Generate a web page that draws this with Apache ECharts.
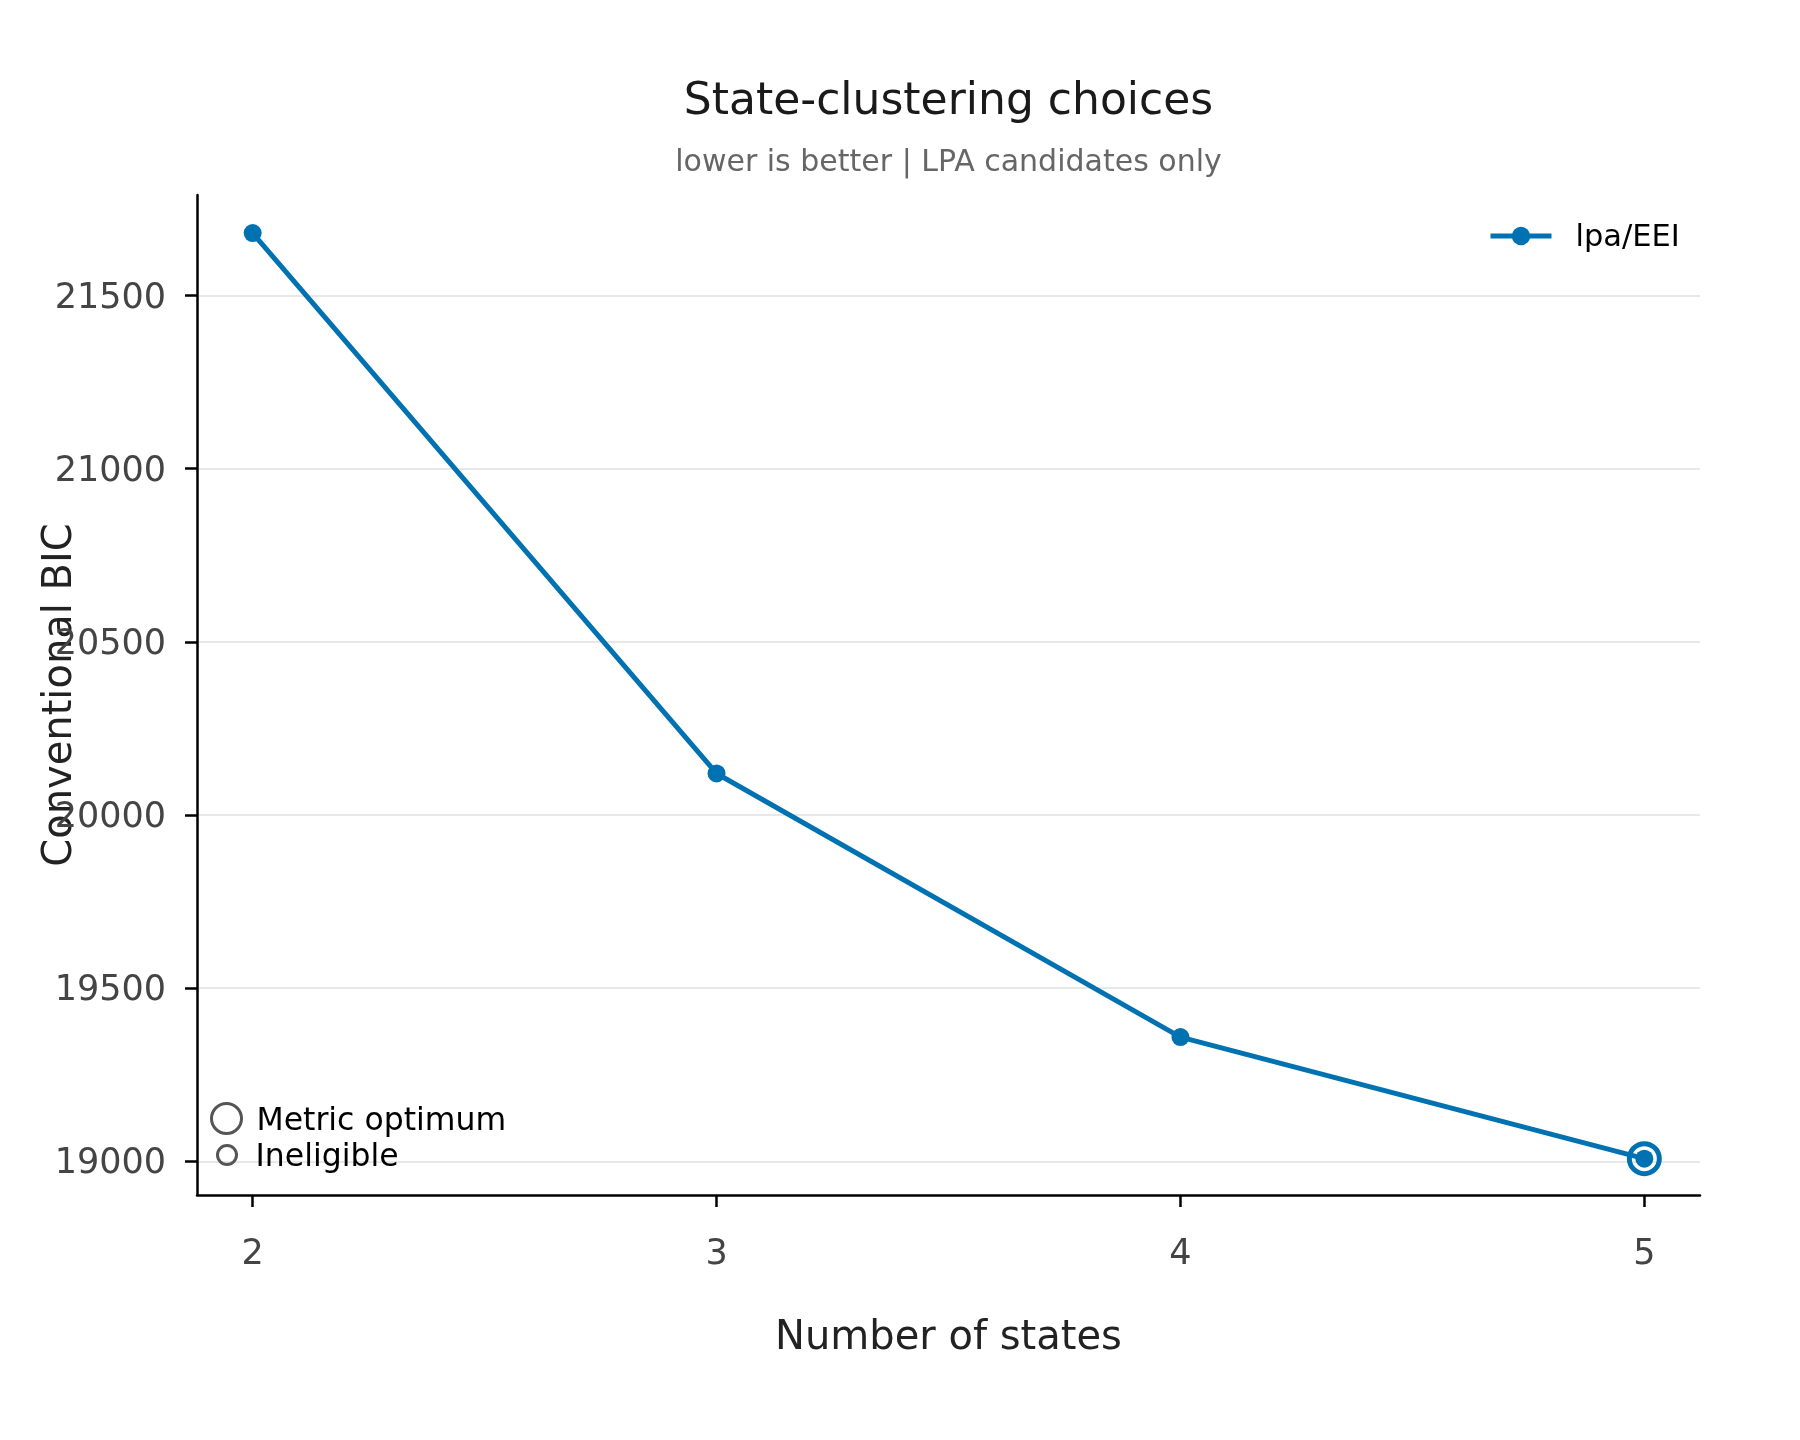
<!DOCTYPE html>
<html>
<head>
<meta charset="utf-8">
<title>State-clustering choices</title>
<script src="https://cdn.jsdelivr.net/npm/echarts@6.0.0/dist/echarts.min.js"></script>
<style>
  html, body { margin: 0; padding: 0; background: #fff; }
  #chart { width: 1800px; height: 1440px; }
</style>
</head>
<body>
<div id="chart"></div>
<script>
/// data

const states = [2, 3, 4, 5]
const bic = [21680, 20120, 19359, 19008]
const ineligible = []
const xTicks = [2, 3, 4, 5]
const yTicks = [19000, 19500, 20000, 20500, 21000, 21500]
const seriesName = 'lpa/EEI'


/// code

const FONT = 'DejaVu Sans'
const BLUE = '#0072B2'
const KEY_GRAY = '#555'

const best = bic.indexOf(Math.min(...bic))
const points = states.map((s, i) => [s, bic[i]])

// rich text block nudged down a few px so digits sit centred on the tick
const nudge = (size, color, down) => ({
  t: { fontFamily: FONT, fontSize: size, color: color, padding: [down, 0, 0, 0] }
})

const chart = echarts.init(document.getElementById('chart'), null, { renderer: 'canvas' })

chart.setOption({
  animation: false,
  backgroundColor: '#fff',
  textStyle: { fontFamily: FONT },
  title: [
    {
      text: 'State-clustering choices',
      left: 948.5, top: 81, textAlign: 'center', padding: 0,
      textStyle: { fontFamily: FONT, fontSize: 44, fontWeight: 'normal', color: '#1a1a1a' }
    },
    {
      text: 'lower is better | LPA candidates only',
      left: 948.5, top: 148, textAlign: 'center', padding: 0,
      textStyle: { fontFamily: FONT, fontSize: 30, fontWeight: 'normal', color: '#666' }
    }
  ],
  grid: { left: 197, top: 195, right: 100, bottom: 245 },
  legend: [
    {
      data: [seriesName],
      left: 1488, top: 223, padding: 0,
      itemWidth: 61, itemHeight: 23,
      selectedMode: false,
      lineStyle: { width: 5, color: BLUE },
      formatter: '{t|{name}}',
      textStyle: { padding: [0, 0, 0, 19], rich: nudge(30.5, '#000', 5) }
    },
    {
      data: [{
        name: 'Metric optimum', icon: 'circle',
        itemStyle: { color: 'rgba(0,0,0,0)', borderColor: KEY_GRAY, borderWidth: 3, opacity: 1 }
      }],
      left: 210, top: 1102, padding: 0,
      itemWidth: 30, itemHeight: 30,
      selectedMode: false,
      formatter: '{t|{name}}',
      textStyle: { padding: [0, 0, 0, 10], rich: nudge(31.5, '#000', 6) }
    },
    {
      data: [{
        name: 'Ineligible', icon: 'circle',
        itemStyle: { color: 'rgba(0,0,0,0)', borderColor: KEY_GRAY, borderWidth: 3, opacity: 1 }
      }],
      left: 216, top: 1142, padding: 0,
      itemWidth: 19, itemHeight: 19,
      selectedMode: false,
      formatter: '{t|{name}}',
      textStyle: { padding: [0, 0, 0, 14], rich: nudge(31.5, '#000', 6) }
    }
  ],
  xAxis: {
    type: 'value',
    min: 1.88, max: 5.12,
    name: 'Number of states',
    nameLocation: 'middle',
    nameGap: 124,
    nameMoveOverlap: false,
    nameTextStyle: { fontFamily: FONT, fontSize: 40, color: '#222' },
    axisLine: { show: true, onZero: false, lineStyle: { color: '#000', width: 2.5 } },
    axisTick: { show: true, length: 12, customValues: xTicks, lineStyle: { color: '#000', width: 2.5 } },
    axisLabel: {
      margin: 42, customValues: xTicks, fontFamily: FONT, fontSize: 35, color: '#444',
      formatter: v => String(v)
    },
    splitLine: { show: false }
  },
  yAxis: {
    type: 'value',
    min: 18903, max: 21790,
    name: 'Conventional BIC',
    nameLocation: 'middle',
    nameGap: 116,
    nameMoveOverlap: false,
    nameTextStyle: { fontFamily: FONT, fontSize: 40, color: '#222' },
    axisLine: { show: true, onZero: false, lineStyle: { color: '#000', width: 2.5 } },
    axisTick: { show: true, length: 12, customValues: yTicks, lineStyle: { color: '#000', width: 2.5 } },
    axisLabel: {
      margin: 31, customValues: yTicks,
      formatter: v => '{t|' + v + '}',
      rich: nudge(35, '#444', 6)
    },
    splitLine: { show: true, lineStyle: { color: '#e8e8e8', width: 2 } }
  },
  series: [
    {
      name: seriesName,
      type: 'line',
      data: points,
      symbol: 'circle',
      symbolSize: 18,
      showAllSymbol: true,
      lineStyle: { color: BLUE, width: 5 },
      itemStyle: { color: BLUE, borderWidth: 0, opacity: 1 },
      emphasis: { disabled: true },
      z: 3
    },
    {
      name: 'Metric optimum',
      type: 'scatter',
      data: [points[best]],
      symbol: 'circle',
      symbolSize: 30,
      itemStyle: { color: 'rgba(0,0,0,0)', borderColor: BLUE, borderWidth: 5, opacity: 1 },
      emphasis: { disabled: true },
      z: 4
    },
    {
      name: 'Ineligible',
      type: 'scatter',
      data: ineligible,
      symbol: 'circle',
      symbolSize: 19,
      itemStyle: { color: 'rgba(0,0,0,0)', borderColor: KEY_GRAY, borderWidth: 3, opacity: 1 },
      z: 4
    }
  ]
})
</script>
</body>
</html>
